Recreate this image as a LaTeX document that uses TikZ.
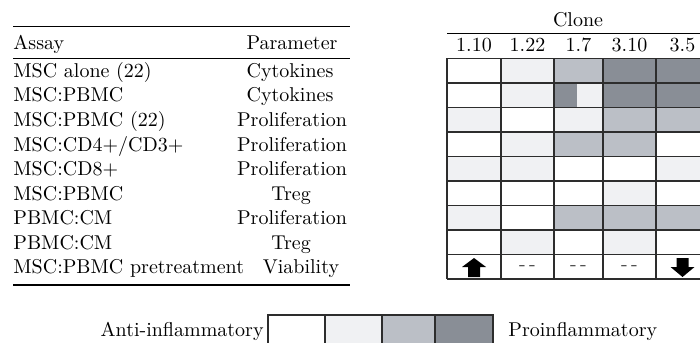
\documentclass[tikz,border=0pt]{standalone}
\definecolor{heatW}{RGB}{255,255,255}
\definecolor{heatL}{RGB}{240,241,243}
\definecolor{heatM}{RGB}{187,191,198}
\definecolor{heatD}{RGB}{137,142,150}
\definecolor{gridline}{RGB}{45,45,45}
\tikzset{
  tabletext/.style={font=\fontsize{10}{12}\selectfont, inner sep=0pt},
  tablerule/.style={line width=0.6pt},
  gridrule/.style={draw=gridline, line width=0.75pt},
}

\begin{document}
\begin{tikzpicture}[x=0.5pt, y=-0.5pt]
	\useasboundingbox (0, 0) rectangle (700, 342);
	\clip (0, 0) rectangle (700, 342);

	% assay table
	\draw [tablerule] (13, 26.7) -- (350, 26.7);
	\draw [tablerule] (13, 58.3) -- (350, 58.3);
	\draw [tablerule] (13, 285) -- (350, 285);
	\node [tabletext, anchor=base west] (assay) at (13, 50) {Assay};
	\node [tabletext, anchor=base] (param) at (292, 50) {Parameter};
	\foreach \assay/\param/\px [count=\i] in {MSC alone (22)/Cytokines/290, MSC:PBMC/Cytokines/290, MSC:PBMC (22)/Proliferation/292, {MSC:CD4+/CD3+}/Proliferation/292, MSC:CD8+/Proliferation/292, MSC:PBMC/Treg/291, PBMC:CM/Proliferation/292, PBMC:CM/Treg/291, MSC:PBMC pretreatment/Viability/301}
		{
			\node [tabletext, anchor=base west] (assay\i) at (13, {53 + 24.5*\i}) {\assay};
			\node [tabletext, anchor=base] (param\i) at (\px, {53 + 24.5*\i}) {\param};
		}

	% clone header
	\draw [tablerule] (447, 33.3) -- (709, 33.3);
	\node [tabletext, anchor=base] (clone) at (578, 27) {Clone};
	\foreach \lab/\xc [count=\k] in {1.10/474, 1.22/527.5, 1.7/578.5, 3.10/629.5, 3.5/682.5}
		\node [tabletext, anchor=base] (col\k) at (\xc, 52) {\lab};

	% heat map cells
	\foreach \shades [count=\r] in {{heatW,heatL,heatM,heatD,heatD}, {heatW,heatL,heatL,heatD,heatD}, {heatL,heatW,heatL,heatM,heatM}, {heatW,heatL,heatM,heatM,heatW}, {heatL,heatL,heatW,heatW,heatL}, {heatW,heatW,heatW,heatL,heatW}, {heatL,heatW,heatM,heatM,heatM}, {heatW,heatL,heatW,heatL,heatW}, {heatW,heatW,heatW,heatW,heatW}}
		{
			\foreach \shade [count=\k] in \shades
				{
					\pgfmathsetmacro\xa{{447,501,554,603,656,709}[\k-1]}
					\pgfmathsetmacro\xb{{447,501,554,603,656,709}[\k]}
					\fill [\shade] (\xa, {33.8 + 24.5*\r}) rectangle (\xb, {58.3 + 24.5*\r});
				}
		}
	\fill [heatD] (554, 82.8) rectangle (577, 107.3);
	\foreach \j in {0, ..., 9}
		\draw [gridrule] (447, {58.3 + 24.5*\j}) -- (709, {58.3 + 24.5*\j});
	\foreach \x in {447, 501, 554, 603, 656, 709}
		\draw [gridrule] (\x, 58.3) -- (\x, 278.8);

	% viability row
	\fill (474, 258) -- (486, 267) -- (480, 267) -- (480, 277) -- (468, 277) -- (468, 267) -- (462, 267) -- cycle;
	\fill (682.5, 277) -- (694.5, 267) -- (688.5, 267) -- (688.5, 258) -- (676.5, 258) -- (676.5, 267) -- (670.5, 267) -- cycle;
	\foreach \xc [count=\k] in {527.5, 578.5, 629.5}
		\node [tabletext, text=black!75] (nochange\k) at (\xc, 268) {-\,-};

	% legend
	\foreach \shade/\xa/\xb [count=\k] in {heatW/268/325, heatL/325/382, heatM/382/435, heatD/435/493}
		\filldraw [gridrule, fill=\shade] (\xa, 315) rectangle (\xb, 350);
	\node [tabletext, anchor=base east] (anti) at (264, 336.7) {Anti-inflammatory};
	\node [tabletext, anchor=base west] (pro) at (508, 336.7) {Proinflammatory};
\end{tikzpicture}
\end{document}
